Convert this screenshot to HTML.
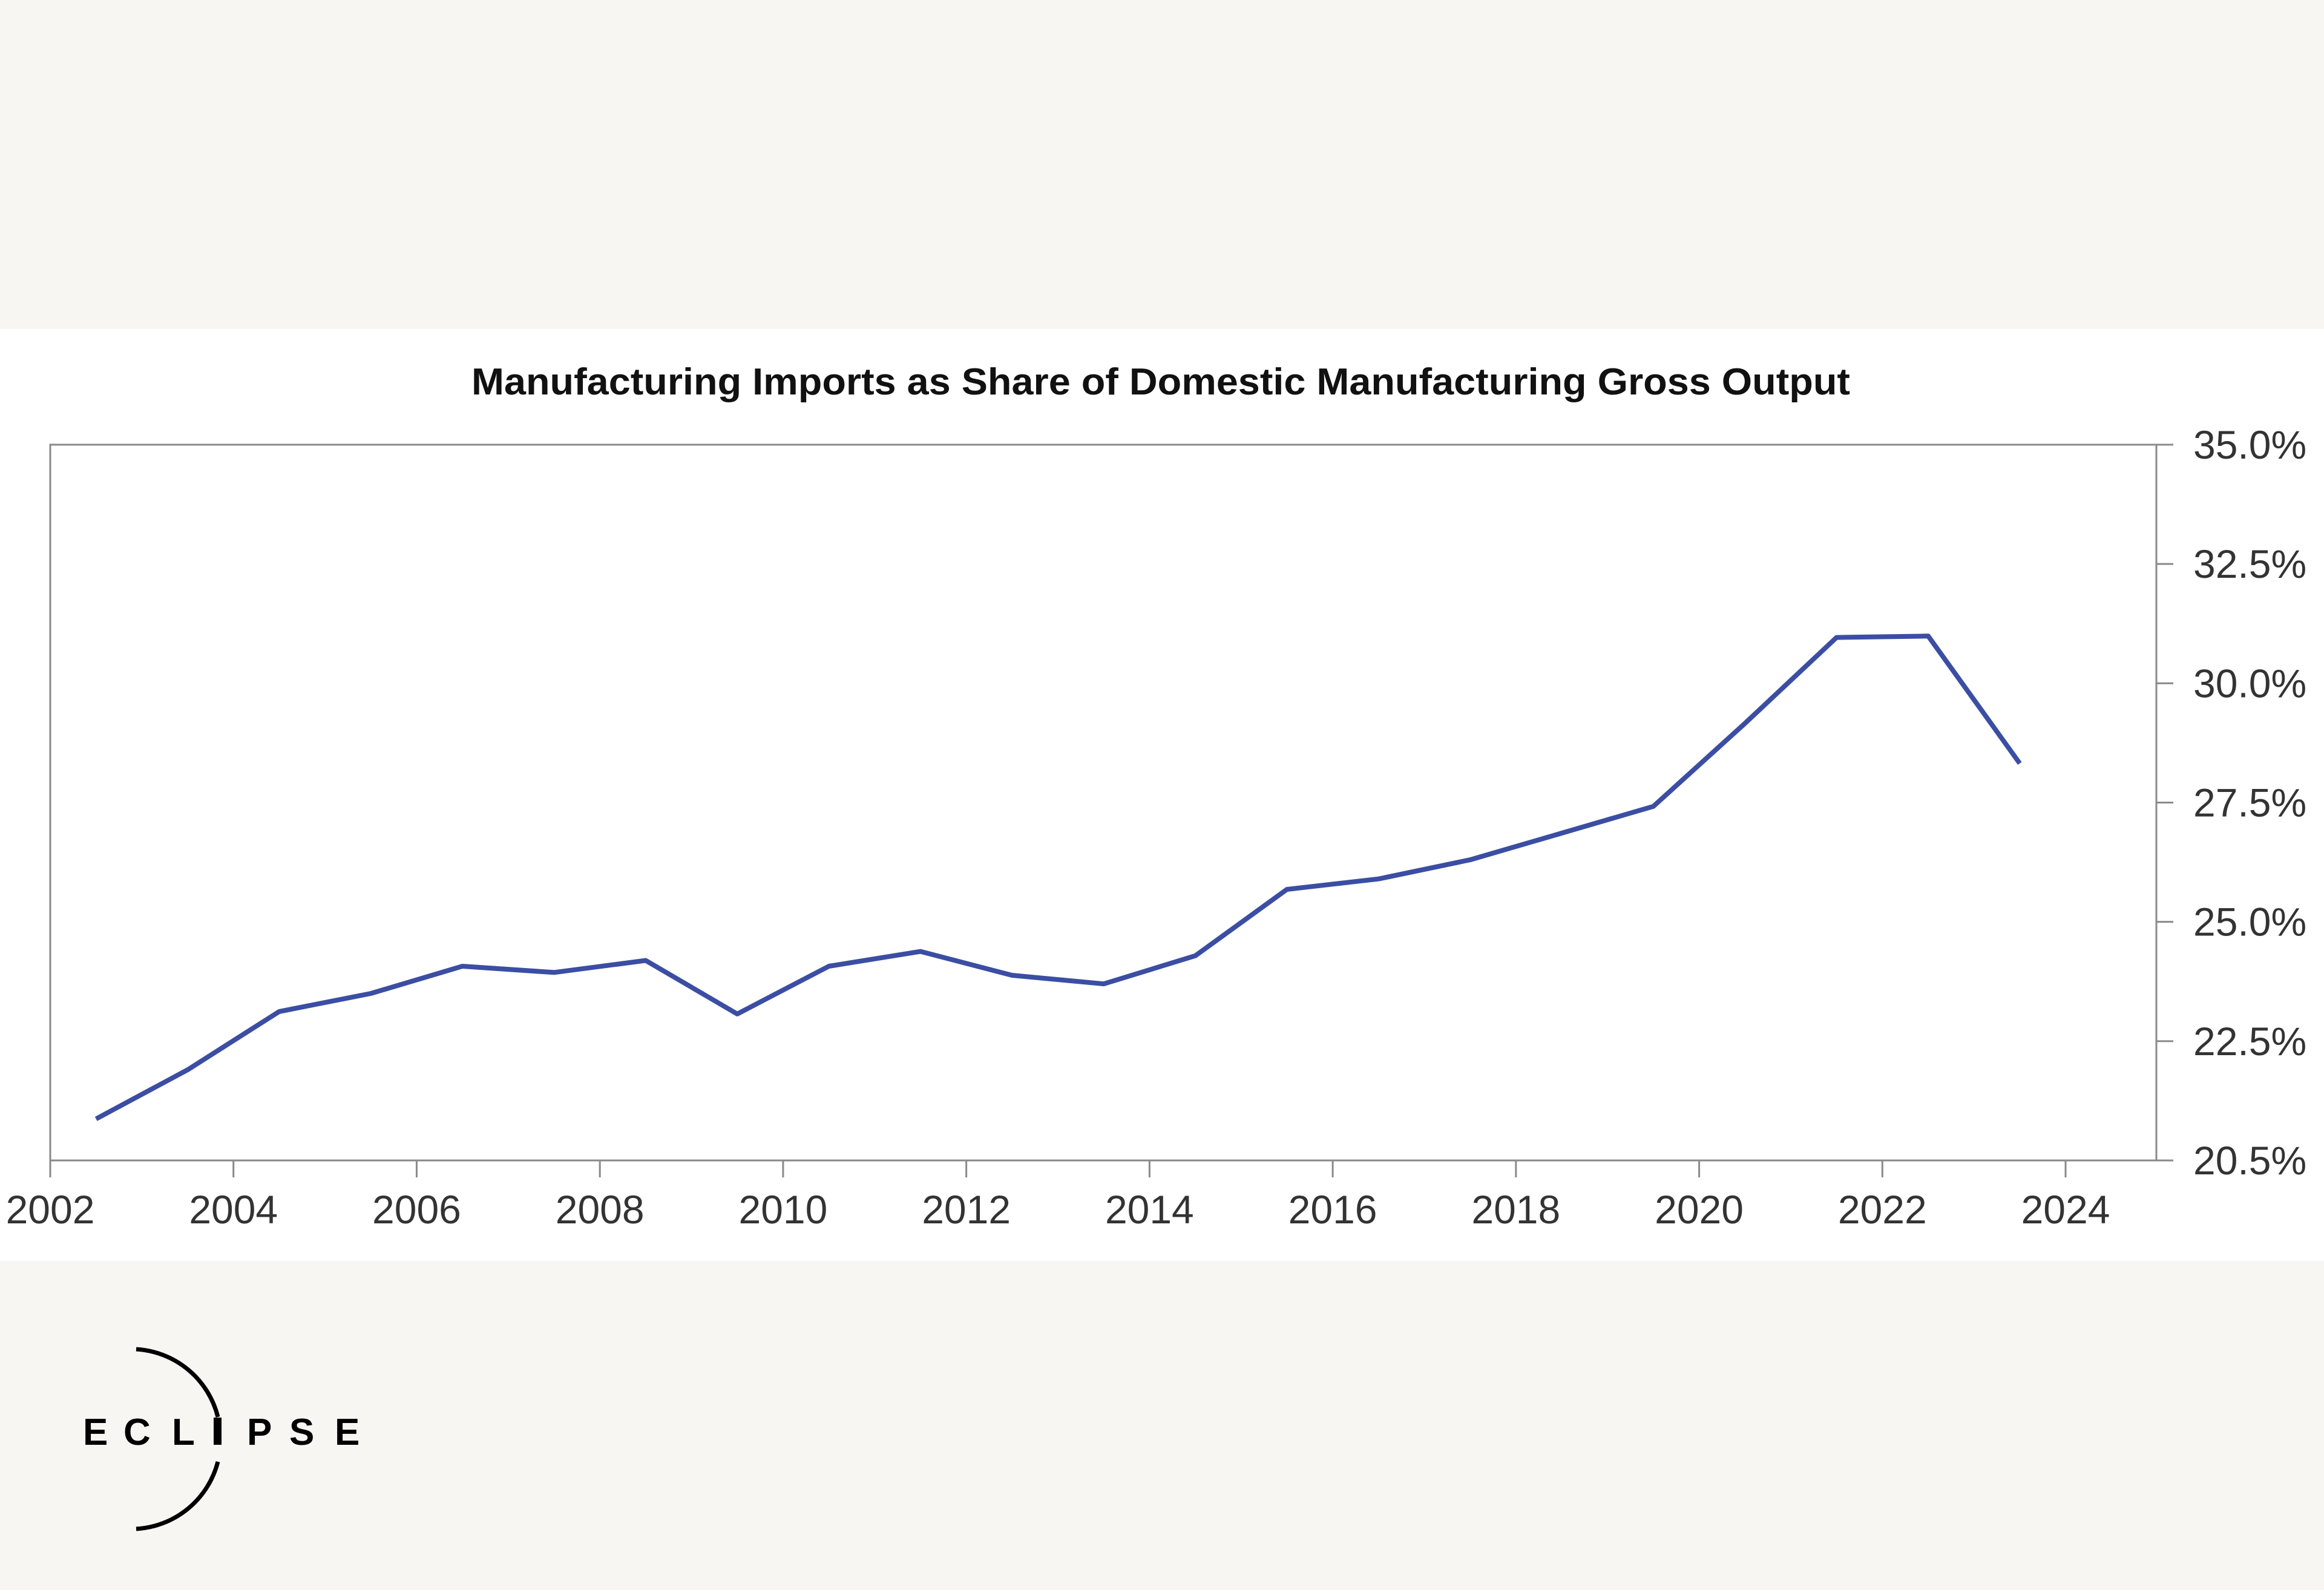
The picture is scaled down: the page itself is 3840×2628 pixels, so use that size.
<!DOCTYPE html>
<html><head><meta charset="utf-8"><style>
html,body{margin:0;padding:0;background:#f7f6f2;}
svg{display:block;}
text{font-family:"Liberation Sans",sans-serif;}
</style></head><body>
<svg id="chart" width="3840" height="2628" viewBox="0 0 3840 2628" xmlns="http://www.w3.org/2000/svg">
<rect x="0" y="0" width="3840" height="2628" fill="#f7f6f2"/>
<rect x="0" y="544" width="3840" height="1540" fill="#ffffff"/>
<text x="1918" y="652" text-anchor="middle" font-size="62" font-weight="bold" fill="#111" textLength="2278" lengthAdjust="spacingAndGlyphs">Manufacturing Imports as Share of Domestic Manufacturing Gross Output</text>
<rect x="83" y="735" width="3480" height="1183" fill="none" stroke="#8a8a8a" stroke-width="3"/>
<g id="xaxis"></g>
<g id="yaxis"></g>
<path id="series" fill="none" stroke="#3b4ea3" stroke-width="8" stroke-linejoin="round"/>
<g>
<path d="M225 2230 A148 148 0 0 1 360 2342" fill="none" stroke="#000" stroke-width="7"/>
<path d="M360 2416 A148 148 0 0 1 225 2527" fill="none" stroke="#000" stroke-width="7"/>
<g font-size="62" font-weight="bold" fill="#000">
<text x="137" y="2388">E</text>
<text x="204" y="2388">C</text>
<text x="284" y="2388">L</text>
<rect x="353" y="2343" width="13" height="45"/>
<text x="408" y="2388">P</text>
<text x="478" y="2388">S</text>
<text x="553" y="2388">E</text>
</g></g>
</svg>
<script>
const years=[2002.5,2003.5,2004.5,2005.5,2006.5,2007.5,2008.5,2009.5,2010.5,2011.5,2012.5,2013.5,2014.5,2015.5,2016.5,2017.5,2018.5,2019.5,2020.5,2021.5,2022.5,2023.5];
const shares=[20.87,21.9,23.12,23.5,24.07,23.94,24.19,23.07,24.07,24.38,23.88,23.7,24.29,25.68,25.9,26.3,26.86,27.42,29.16,30.96,30.99,28.32];
const xTicks=[2002,2004,2006,2008,2010,2012,2014,2016,2018,2020,2022,2024];
const yTickVals=[20,22.5,25,27.5,30,32.5,35];
const yTickLabels=["20.5%","22.5%","25.0%","27.5%","30.0%","32.5%","35.0%"];
const NS="http://www.w3.org/2000/svg";
const L=83,R=3563,T=735,B=1918;
function xs(v){return L+(v-2002)*(3413-L)/22;}
function ys(v){return B-(v-20)*(B-T)/15;}
const xg=document.getElementById('xaxis'),yg=document.getElementById('yaxis');
xTicks.forEach(t=>{
 const l=document.createElementNS(NS,'line');
 l.setAttribute('x1',xs(t));l.setAttribute('x2',xs(t));l.setAttribute('y1',B);l.setAttribute('y2',B+28);
 l.setAttribute('stroke','#8a8a8a');l.setAttribute('stroke-width','3');
 
 
 xg.appendChild(l);
 const tx=document.createElementNS(NS,'text');
 tx.setAttribute('x',xs(t));tx.setAttribute('y',B+104);tx.setAttribute('text-anchor','middle');
 tx.setAttribute('font-size','66');tx.setAttribute('fill','#333');tx.textContent=t;
 
 
 xg.appendChild(tx);
});
yTickVals.forEach((v,i)=>{
 const l=document.createElementNS(NS,'line');
 l.setAttribute('x1',R);l.setAttribute('x2',R+28);l.setAttribute('y1',ys(v));l.setAttribute('y2',ys(v));
 l.setAttribute('stroke','#8a8a8a');l.setAttribute('stroke-width','3');
 
 
 yg.appendChild(l);
 const tx=document.createElementNS(NS,'text');
 tx.setAttribute('x',3624);tx.setAttribute('y',ys(v)+23);
 tx.setAttribute('font-size','66');tx.setAttribute('fill','#333');tx.textContent=yTickLabels[i];
 
 
 yg.appendChild(tx);
});
document.getElementById('series').setAttribute('d',years.map((y,i)=>(i?'L':'M')+xs(y).toFixed(1)+' '+ys(shares[i]).toFixed(1)).join(' '));
</script>
</body></html>
